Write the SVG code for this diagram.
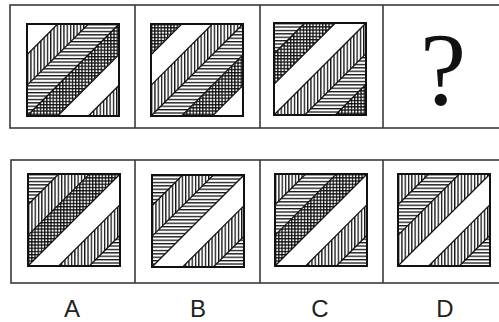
<svg xmlns="http://www.w3.org/2000/svg" width="499" height="322" viewBox="0 0 499 322">
<style>
.frame{fill:none;stroke:#3a3a3a;stroke-width:1.6}
.sq{fill:none;stroke:#111;stroke-width:2}
.bl{stroke:#111;stroke-width:1.3;fill:none}
.W{fill:#fff}
.V{fill:url(#pv)}
.H{fill:url(#ph)}
.X{fill:url(#px)}
.lbl{font-family:"Liberation Sans",Arial,sans-serif;font-size:24px;fill:#222;text-anchor:middle}
</style>
<defs>
<pattern id="pv" patternUnits="userSpaceOnUse" width="3.3" height="10">
<rect width="3.3" height="10" fill="#fff"/>
<rect x="0" y="0" width="1.3" height="10" fill="#111"/>
</pattern>
<pattern id="ph" patternUnits="userSpaceOnUse" width="10" height="3.4">
<rect width="10" height="3.4" fill="#fff"/>
<rect x="0" y="0" width="10" height="1.3" fill="#111"/>
</pattern>
<pattern id="px" patternUnits="userSpaceOnUse" width="3.2" height="3.2">
<rect width="3.2" height="3.2" fill="#fff"/>
<rect x="0" y="0" width="1.3" height="3.2" fill="#111"/>
<rect x="0" y="0" width="3.2" height="1.3" fill="#111"/>
</pattern>
<clipPath id="cl" clipPathUnits="userSpaceOnUse"><rect x="0" y="0" width="92" height="92"/></clipPath>
<polygon id="b0" points="100,-100 130.67,-100 -169.33,200 -200,200"/>
<polygon id="b1" points="130.67,-100 161.33,-100 -138.67,200 -169.33,200"/>
<polygon id="b2" points="161.33,-100 192,-100 -108,200 -138.67,200"/>
<polygon id="b3" points="192,-100 222.67,-100 -77.33,200 -108,200"/>
<polygon id="b4" points="222.67,-100 253.33,-100 -46.67,200 -77.33,200"/>
<polygon id="b5" points="253.33,-100 284,-100 -16,200 -46.67,200"/>
<g id="lines">
<line class="bl" x1="30.67" y1="0" x2="0" y2="30.67"/>
<line class="bl" x1="61.33" y1="0" x2="0" y2="61.33"/>
<line class="bl" x1="92" y1="0" x2="0" y2="92"/>
<line class="bl" x1="92" y1="30.67" x2="30.67" y2="92"/>
<line class="bl" x1="92" y1="61.33" x2="61.33" y2="92"/>
</g>
</defs>

<g id="frames">
<rect class="frame" x="10" y="5" width="500" height="123"/>
<line class="frame" x1="135" y1="5" x2="135" y2="128"/>
<line class="frame" x1="260" y1="5" x2="260" y2="128"/>
<line class="frame" x1="383" y1="5" x2="383" y2="128"/>
<rect class="frame" x="11" y="160" width="500" height="123"/>
<line class="frame" x1="135" y1="160" x2="135" y2="283"/>
<line class="frame" x1="260" y1="160" x2="260" y2="283"/>
<line class="frame" x1="383" y1="160" x2="383" y2="283"/>
</g>

<g id="q1" transform="translate(27,24)">
<g clip-path="url(#cl)">
<use href="#b0" class="W"/><use href="#b1" class="V"/><use href="#b2" class="H"/><use href="#b3" class="X"/><use href="#b4" class="W"/><use href="#b5" class="V"/>
<use href="#lines"/>
</g>
<rect class="sq" x="0" y="0" width="92" height="92"/>
</g>

<g id="q2" transform="translate(151,24)">
<g clip-path="url(#cl)">
<use href="#b0" class="X"/><use href="#b1" class="W"/><use href="#b2" class="V"/><use href="#b3" class="H"/><use href="#b4" class="X"/><use href="#b5" class="W"/>
<use href="#lines"/>
</g>
<rect class="sq" x="0" y="0" width="92" height="92"/>
</g>

<g id="q3" transform="translate(274,23)">
<g clip-path="url(#cl)">
<use href="#b0" class="H"/><use href="#b1" class="X"/><use href="#b2" class="W"/><use href="#b3" class="V"/><use href="#b4" class="H"/><use href="#b5" class="X"/>
<use href="#lines"/>
</g>
<rect class="sq" x="0" y="0" width="92" height="92"/>
</g>

<g id="q4">
<text x="443" y="105" font-family="Liberation Serif,'Times New Roman',serif" font-size="104" text-anchor="middle" fill="#111">?</text>
</g>

<g id="optA" transform="translate(28,174)">
<g clip-path="url(#cl)">
<use href="#b0" class="H"/><use href="#b1" class="V"/><use href="#b2" class="X"/><use href="#b3" class="W"/><use href="#b4" class="V"/><use href="#b5" class="H"/>
<use href="#lines"/>
</g>
<rect class="sq" x="0" y="0" width="92" height="92"/>
</g>

<g id="optB" transform="translate(152,175)">
<g clip-path="url(#cl)">
<use href="#b0" class="H"/><use href="#b1" class="V"/><use href="#b2" class="H"/><use href="#b3" class="W"/><use href="#b4" class="V"/><use href="#b5" class="H"/>
<use href="#lines"/>
</g>
<rect class="sq" x="0" y="0" width="92" height="92"/>
</g>

<g id="optC" transform="translate(275,174)">
<g clip-path="url(#cl)">
<use href="#b0" class="V"/><use href="#b1" class="H"/><use href="#b2" class="X"/><use href="#b3" class="W"/><use href="#b4" class="V"/><use href="#b5" class="H"/>
<use href="#lines"/>
</g>
<rect class="sq" x="0" y="0" width="92" height="92"/>
</g>

<g id="optD" transform="translate(398,174)">
<g clip-path="url(#cl)">
<use href="#b0" class="V"/><use href="#b1" class="H"/><use href="#b2" class="V"/><use href="#b3" class="W"/><use href="#b4" class="V"/><use href="#b5" class="H"/>
<use href="#lines"/>
</g>
<rect class="sq" x="0" y="0" width="92" height="92"/>
</g>

<g id="labels">
<text class="lbl" x="72" y="317">A</text>
<text class="lbl" x="198" y="317">B</text>
<text class="lbl" x="320" y="317">C</text>
<text class="lbl" x="445" y="317">D</text>
</g>
</svg>
